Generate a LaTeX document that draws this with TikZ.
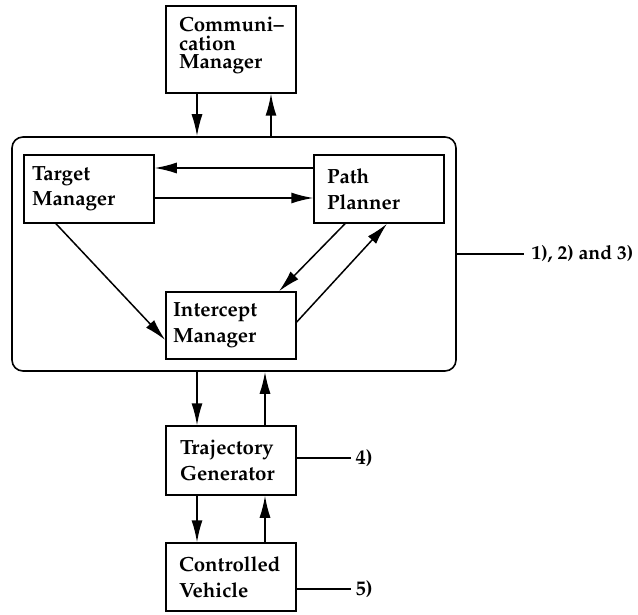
\documentclass[tikz,border=0pt]{standalone}
\usepackage[T1]{fontenc}
\usepackage{mathpazo}
\usepackage{tikz}
\usetikzlibrary{arrows.meta}

\tikzset{
  box/.style={draw, line width=1.5pt, inner sep=0pt, align=left,
    font=\fontsize{20.5}{25.5}\selectfont\bfseries},
  arr/.style={line width=1.5pt, -{Latex[length=22pt,width=11pt]}},
  tag/.style={anchor=west, inner sep=0pt, xshift=8pt, font=\fontsize{20.5}{25.5}\selectfont\bfseries}
}

\begin{document}
\begin{tikzpicture}[x=1pt, y=-1pt]
      \useasboundingbox (0,0) rectangle (638,615);
      \node[box, minimum width=130pt, minimum height=87pt, text width=104pt,
        font=\fontsize{20.5}{18.5}\selectfont\bfseries] (comm) at (231,49.5) {\mbox{Communi--}\\cation\\Manager\rule[-13pt]{0pt}{0pt}};
      \node[draw, line width=1.6pt, rounded corners=11pt, minimum width=444pt, minimum height=234pt] (core) at (234,254) {};
      \node[box, minimum width=130pt, minimum height=68pt, text width=114pt] (tm) at (89,189) {Target\\Manager};
      \node[box, minimum width=130pt, minimum height=68pt, text width=104pt] (pp) at (379,189) {Path\\Planner};
      \node[box, minimum width=130pt, minimum height=67pt, text width=116pt] (im) at (231,325.5) {Intercept\\Manager};
      \node[box, minimum width=130pt, minimum height=69pt, text width=102pt] (tg) at (231,460.5) {Trajectory\\Generator};
      \node[box, minimum width=130pt, minimum height=68pt, text width=104pt] (cv) at (231,577) {Controlled\\Vehicle};

      \coordinate (cdn) at ([xshift=-34pt]comm.south);
      \coordinate (cup) at ([xshift=40pt]comm.south);
      \draw[arr] (cdn) -- (cdn |- core.north);
      \draw[arr] (cup |- core.north) -- (cup);

      \draw[arr] ([yshift=21pt]pp.west) -- ([yshift=21pt]tm.east);
      \draw[arr] ([yshift=-9pt]tm.east) -- ([yshift=-9pt]pp.west);
      \draw[arr] ([xshift=-33pt]tm.south) -- ([yshift=-14.5pt]im.west);
      \draw[arr] ([xshift=-34pt]pp.south) -- ([xshift=48pt]im.north);
      \draw[arr] ([yshift=3.5pt]im.east) -- ([xshift=8pt]pp.south);

      \coordinate (tdn) at ([xshift=-34pt]tg.north);
      \coordinate (tup) at ([xshift=34pt]tg.north);
      \draw[arr] (tdn |- core.south) -- (tdn);
      \draw[arr] (tup) -- (tup |- core.south);

      \coordinate (vdn) at ([xshift=-34pt]cv.north);
      \coordinate (vup) at ([xshift=34pt]cv.north);
      \draw[arr] (vdn |- tg.south) -- (vdn);
      \draw[arr] (vup) -- (vup |- tg.south);

      \coordinate (coreout) at ([xshift=67pt]core.east);
      \coordinate (tgout) at ([xshift=54pt,yshift=2.5pt]tg.east);
      \coordinate (cvout) at ([xshift=54pt,yshift=-12pt]cv.east);
      \draw[line width=1.5pt] (core.east) -- (coreout) node[tag, xshift=-1pt, font=\fontsize{19.5}{24}\selectfont\bfseries] (l1) {1), 2) and 3)};
      \draw[line width=1.5pt] ([yshift=2.5pt]tg.east) -- (tgout) node[tag, xshift=-4pt] (l4) {4)};
      \draw[line width=1.5pt] ([yshift=-12pt]cv.east) -- (cvout) node[tag, xshift=-4pt] (l5) {5)};
    \end{tikzpicture}
\end{document}
